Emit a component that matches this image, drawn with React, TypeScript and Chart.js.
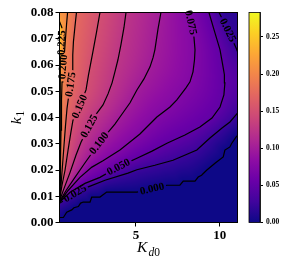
import React, { useEffect, useRef } from "react";
import { Chart, registerables } from "chart.js";
Chart.register(...registerables);

// ---- axis ranges and ticks ----
const X_MIN = 0.45;
const X_MAX = 11.05;
const Y_MIN = 0;
const Y_MAX = 0.08;
const Z_MAX = 0.283;
const xTicks = [5, 10];
const yTicks = [0, 0.01, 0.02, 0.03, 0.04, 0.05, 0.06, 0.07, 0.08];
const cbTicks = [0, 0.05, 0.1, 0.15, 0.2, 0.25];
const LEVELS = [0, 0.025, 0.05, 0.075, 0.1, 0.125, 0.15, 0.175, 0.2, 0.225];

// ---- contour lines (Kd0, k1), label = index of label anchor ----
const kd_000 = [0.45, 0.68, 0.88, 1.18, 1.31, 1.57, 1.71, 1.87, 2.27, 2.37, 2.86, 3.26, 5.06, 5.96, 6.85, 7.62, 7.82, 8.52, 8.71, 8.91, 9.21, 9.71, 10.2, 10.3, 10.6, 10.7, 10.98, 11.05];
const k1_000 = [0.0019, 0.0019, 0.0039, 0.0048, 0.0056, 0.0061, 0.0074, 0.0078, 0.0078, 0.0097, 0.0097, 0.0116, 0.0116, 0.0129, 0.0142, 0.0142, 0.0158, 0.0158, 0.0173, 0.018, 0.0199, 0.0226, 0.025, 0.0276, 0.0288, 0.0301, 0.0327, 0.0331];
const lab_000 = 13;

const kd_025a = [0.45, 0.72, 1.37, 2.09, 3.16, 4.53, 5.06, 6.13, 7.21, 8.63, 9.41, 10.13, 10.6, 11.05];
const k1_025a = [0.0073, 0.0084, 0.0111, 0.0134, 0.0161, 0.0188, 0.0201, 0.0218, 0.0237, 0.0276, 0.0322, 0.036, 0.0383, 0.0417];
const lab_025a = 2;

const kd_025b = [9.95, 10.48, 10.96, 11.05];
const k1_025b = [0.08, 0.0733, 0.0666, 0.0651];
const lab_025b = 1;

const kd_050 = [0.45, 1.08, 1.97, 2.86, 3.96, 5.06, 5.96, 6.85, 7.92, 8.81, 9.53, 10.01, 10.24, 10.3, 10.27, 10.19, 10.01, 9.65, 9.35];
const k1_050 = [0.0077, 0.0115, 0.0149, 0.0172, 0.0212, 0.0245, 0.0272, 0.0302, 0.0333, 0.0364, 0.0398, 0.044, 0.0486, 0.0532, 0.0563, 0.0593, 0.0658, 0.0735, 0.08];
const lab_050 = 4;

const kd_075 = [0.45, 0.96, 1.67, 2.38, 3.04, 4.05, 5.24, 6.25, 7.03, 7.44, 7.98, 8.22, 8.4, 8.49, 8.52, 8.46, 8.28, 8.13];
const k1_075 = [0.0078, 0.0122, 0.0172, 0.0211, 0.0235, 0.0276, 0.0337, 0.0402, 0.044, 0.0467, 0.0513, 0.0536, 0.0574, 0.062, 0.0658, 0.0704, 0.0762, 0.08];
const lab_075 = 16;

const kd_100 = [0.45, 0.84, 1.37, 1.91, 2.8, 3.75, 4.05, 4.65, 5.06, 5.48, 5.84, 6.02, 6.13, 6.31, 6.49];
const k1_100 = [0.008, 0.0122, 0.0172, 0.0222, 0.0302, 0.0375, 0.0402, 0.0456, 0.0505, 0.0547, 0.0593, 0.0628, 0.0658, 0.0735, 0.08];
const lab_100 = 4;

const kd_125 = [0.45, 0.72, 1.08, 1.43, 1.73, 2.21, 2.68, 3.04, 3.34, 3.58, 3.75, 3.93, 4.11, 4.29, 4.41];
const k1_125 = [0.0082, 0.013, 0.0191, 0.0256, 0.0306, 0.0367, 0.0417, 0.0448, 0.049, 0.0532, 0.0574, 0.062, 0.0678, 0.0743, 0.08];
const lab_125 = 5;

const kd_150 = [0.45, 0.6, 0.78, 0.96, 1.13, 1.25, 1.64, 2.03, 2.18, 2.43, 2.65, 2.86];
const k1_150 = [0.0084, 0.0142, 0.0199, 0.0276, 0.0344, 0.0389, 0.0442, 0.0505, 0.0563, 0.0647, 0.0723, 0.08];
const lab_150 = 6;

const kd_175 = [0.45, 0.54, 0.63, 0.72, 0.81, 0.9, 0.99, 1.1, 1.21, 1.24, 1.28, 1.37, 1.46];
const k1_175 = [0.0086, 0.0142, 0.0218, 0.0295, 0.0371, 0.0436, 0.0478, 0.0526, 0.0574, 0.0639, 0.0689, 0.0746, 0.08];
const lab_175 = 7;

const kd_200 = [0.45, 0.48, 0.51, 0.54, 0.57, 0.6, 0.65, 0.75, 0.81, 0.87, 0.93];
const k1_200 = [0.0088, 0.0142, 0.0237, 0.0352, 0.0467, 0.0536, 0.0593, 0.0651, 0.0704, 0.0754, 0.08];
const lab_200 = 6;

const kd_225 = [0.45, 0.47, 0.48, 0.49, 0.49, 0.51, 0.56, 0.59, 0.45];
const k1_225 = [0.009, 0.0142, 0.0237, 0.039, 0.0544, 0.0628, 0.0685, 0.0743, 0.0766];
const lab_225 = 6;

const contours = [
  { level: 0, kd: kd_000, k1: k1_000, label: lab_000 },
  { level: 0.025, kd: kd_025a, k1: k1_025a, label: lab_025a },
  { level: 0.025, kd: kd_025b, k1: k1_025b, label: lab_025b },
  { level: 0.05, kd: kd_050, k1: k1_050, label: lab_050 },
  { level: 0.075, kd: kd_075, k1: k1_075, label: lab_075 },
  { level: 0.1, kd: kd_100, k1: k1_100, label: lab_100 },
  { level: 0.125, kd: kd_125, k1: k1_125, label: lab_125 },
  { level: 0.15, kd: kd_150, k1: k1_150, label: lab_150 },
  { level: 0.175, kd: kd_175, k1: k1_175, label: lab_175 },
  { level: 0.2, kd: kd_200, k1: k1_200, label: lab_200 },
  { level: 0.225, kd: kd_225, k1: k1_225, label: lab_225 },
];

// ---- styles ----
const SERIF = '"Liberation Serif", "Times New Roman", serif';
const PLASMA = ["#0d0887", "#41049d", "#6a00a8", "#8f0da4", "#b12a90", "#cc4778", "#e16462", "#f2844b", "#fca636", "#fcce25", "#f0f921"];
const LABEL_FONT = `bold 11px ${SERIF}`;

function hexRgb(h: string) {
  return [parseInt(h.slice(1, 3), 16), parseInt(h.slice(3, 5), 16), parseInt(h.slice(5, 7), 16)];
}
const PL = PLASMA.map(hexRgb);
function plasma(t: number) {
  t = Math.max(0, Math.min(1, t));
  const f = t * (PL.length - 1);
  const i = Math.min(PL.length - 2, Math.floor(f));
  const u = f - i;
  const a = PL[i], b = PL[i + 1];
  return [a[0] + (b[0] - a[0]) * u, a[1] + (b[1] - a[1]) * u, a[2] + (b[2] - a[2]) * u];
}

function pixelContours(chart: any) {
  const sx = chart.scales.x, sy = chart.scales.y;
  return contours.map((c) => ({
    li: LEVELS.indexOf(c.level),
    level: c.level,
    label: c.label,
    p: c.kd.map((v, i) => [sx.getPixelForValue(v), sy.getPixelForValue(c.k1[i])]),
  }));
}

function labelGeom(chart: any) {
  const ctx = chart.ctx;
  ctx.save();
  ctx.font = LABEL_FONT;
  const res = pixelContours(chart).map((c) => {
    const p = c.p;
    const k = c.label;
    const prev = p[Math.max(0, k - 1)], next = p[Math.min(p.length - 1, k + 1)];
    let ang = Math.atan2(next[1] - prev[1], next[0] - prev[0]);
    if (ang > Math.PI / 2) ang -= Math.PI;
    if (ang < -Math.PI / 2) ang += Math.PI;
    const text = c.level.toFixed(3);
    const w = ctx.measureText(text).width;
    return { x: p[k][0], y: p[k][1], ang, text, w };
  });
  ctx.restore();
  return res;
}

let fieldCache: { key: string; canvas: HTMLCanvasElement; x0: number; y0: number } | null = null;

function buildField(chart: any) {
  const a = chart.chartArea;
  const key = [a.left, a.top, a.right, a.bottom].join(",");
  if (fieldCache && fieldCache.key === key) return fieldCache;
  const pcs = pixelContours(chart);
  const x0 = Math.floor(a.left), y0 = Math.floor(a.top);
  const W = Math.ceil(a.right) - x0, H = Math.ceil(a.bottom) - y0;
  const off = document.createElement("canvas");
  off.width = W;
  off.height = H;
  const octx = off.getContext("2d")!;
  const img = octx.createImageData(W, H);
  const nL = LEVELS.length;
  const top = LEVELS[nL - 1];
  const dL = new Float64Array(nL), qx = new Float64Array(nL), qy = new Float64Array(nL);
  for (let j = 0; j < H; j++) {
    for (let i = 0; i < W; i++) {
      const px = x0 + i + 0.5, py = y0 + j + 0.5;
      dL.fill(Infinity);
      for (const c of pcs) {
        const p = c.p;
        for (let s = 0; s < p.length - 1; s++) {
          const ax = p[s][0], ay = p[s][1];
          const dx = p[s + 1][0] - ax, dy = p[s + 1][1] - ay;
          const l2 = dx * dx + dy * dy;
          let t = l2 > 0 ? ((px - ax) * dx + (py - ay) * dy) / l2 : 0;
          t = t < 0 ? 0 : t > 1 ? 1 : t;
          const cx = ax + t * dx, cy = ay + t * dy;
          const d2 = (px - cx) * (px - cx) + (py - cy) * (py - cy);
          if (d2 < dL[c.li]) {
            dL[c.li] = d2;
            qx[c.li] = cx;
            qy[c.li] = cy;
          }
        }
      }
      let i1 = 0;
      for (let l = 1; l < nL; l++) if (dL[l] < dL[i1]) i1 = l;
      const d1 = Math.sqrt(dL[i1]);
      const v1x = qx[i1] - px, v1y = qy[i1] - py;
      let best = -1, bestD = Infinity, near = -1, nearD = Infinity;
      for (const jj of [i1 - 1, i1 + 1]) {
        if (jj < 0 || jj >= nL || !isFinite(dL[jj])) continue;
        const dj = Math.sqrt(dL[jj]);
        const vjx = qx[jj] - px, vjy = qy[jj] - py;
        const cos = (v1x * vjx + v1y * vjy) / (d1 * dj + 1e-9);
        if (dj < nearD) { nearD = dj; near = jj; }
        if (cos < 0.3 && dj < bestD) { bestD = dj; best = jj; }
      }
      let z = LEVELS[i1];
      if (best >= 0) z = LEVELS[i1] + (LEVELS[best] - LEVELS[i1]) * d1 / (d1 + bestD);
      else if (i1 === nL - 1) z = top + (Z_MAX - top) * d1 / (d1 + 2.5);
      else if (near >= 0) z = LEVELS[i1] - (LEVELS[near] - LEVELS[i1]) * d1 / (d1 + nearD);
      z = Math.max(0, Math.min(Z_MAX, z));
      const col = plasma(z / Z_MAX);
      const o = (j * W + i) * 4;
      img.data[o] = col[0];
      img.data[o + 1] = col[1];
      img.data[o + 2] = col[2];
      img.data[o + 3] = 255;
    }
  }
  octx.putImageData(img, 0, 0);
  fieldCache = { key, canvas: off, x0, y0 };
  return fieldCache;
}

const contourPlugin = {
  id: "contourField",
  beforeDraw(chart: any) {
    const f = buildField(chart);
    const a = chart.chartArea;
    const ctx = chart.ctx;
    ctx.save();
    ctx.beginPath();
    ctx.rect(a.left, a.top, a.right - a.left, a.bottom - a.top);
    ctx.clip();
    ctx.drawImage(f.canvas, f.x0, f.y0);
    ctx.restore();
  },
  beforeDatasetDraw(chart: any, args: any) {
    const ctx = chart.ctx;
    const g = labelGeom(chart)[args.index];
    ctx.save();
    ctx.beginPath();
    ctx.rect(0, 0, chart.width, chart.height);
    const hw = g.w / 2 + 2, hh = 6;
    const ux = Math.cos(g.ang), uy = Math.sin(g.ang);
    const vx = -uy, vy = ux;
    ctx.moveTo(g.x - ux * hw - vx * hh, g.y - uy * hw - vy * hh);
    ctx.lineTo(g.x + ux * hw - vx * hh, g.y + uy * hw - vy * hh);
    ctx.lineTo(g.x + ux * hw + vx * hh, g.y + uy * hw + vy * hh);
    ctx.lineTo(g.x - ux * hw + vx * hh, g.y - uy * hw + vy * hh);
    ctx.closePath();
    ctx.clip("evenodd");
  },
  afterDatasetDraw(chart: any) {
    chart.ctx.restore();
  },
  afterDatasetsDraw(chart: any) {
    const ctx = chart.ctx;
    const a = chart.chartArea;
    ctx.save();
    ctx.strokeStyle = "#000";
    ctx.lineWidth = 1;
    ctx.strokeRect(a.left, a.top, a.right - a.left, a.bottom - a.top);
    ctx.fillStyle = "#000";
    ctx.font = LABEL_FONT;
    ctx.textAlign = "center";
    ctx.textBaseline = "middle";
    for (const g of labelGeom(chart)) {
      ctx.save();
      ctx.translate(g.x, g.y);
      ctx.rotate(g.ang);
      ctx.fillText(g.text, 0, 0.5);
      ctx.restore();
    }
    ctx.restore();
  },
  afterDraw(chart: any) {
    const ctx = chart.ctx;
    const a = chart.chartArea;
    ctx.save();
    ctx.fillStyle = "#000";
    ctx.textBaseline = "alphabetic";
    ctx.textAlign = "left";
    // x title: K_{d0}
    const bigI = `italic 15.5px ${SERIF}`, smI = `italic 11.5px ${SERIF}`, smR = `11.5px ${SERIF}`;
    ctx.font = bigI;
    const wK = ctx.measureText("K").width;
    ctx.font = smI;
    const wd = ctx.measureText("d").width;
    ctx.font = smR;
    const w0 = ctx.measureText("0").width;
    let x = (a.left + a.right) / 2 - (wK + wd + w0 + 1) / 2;
    ctx.font = bigI;
    ctx.fillText("K", x, 252);
    x += wK + 1;
    ctx.font = smI;
    ctx.fillText("d", x, 255.5);
    x += wd;
    ctx.font = smR;
    ctx.fillText("0", x, 255.5);
    // y title: k_1
    ctx.translate(20.7, (a.top + a.bottom) / 2);
    ctx.rotate(-Math.PI / 2);
    ctx.font = bigI;
    const wk = ctx.measureText("k").width;
    ctx.font = smR;
    const w1 = ctx.measureText("1").width;
    let yx = -(wk + w1 + 1) / 2;
    ctx.font = bigI;
    ctx.fillText("k", yx, 0);
    yx += wk + 1;
    ctx.font = smR;
    ctx.fillText("1", yx, 3.5);
    ctx.restore();
  },
};

const colorbarPlugin = {
  id: "colorbarFill",
  beforeDraw(chart: any) {
    const a = chart.chartArea;
    const sy = chart.scales.y;
    const ctx = chart.ctx;
    const g = ctx.createLinearGradient(0, sy.getPixelForValue(0), 0, sy.getPixelForValue(Z_MAX));
    PLASMA.forEach((c, i) => g.addColorStop(i / (PLASMA.length - 1), c));
    ctx.save();
    ctx.fillStyle = g;
    ctx.fillRect(a.left, a.top, a.right - a.left, a.bottom - a.top);
    ctx.restore();
  },
  afterDraw(chart: any) {
    const a = chart.chartArea;
    const ctx = chart.ctx;
    ctx.save();
    ctx.strokeStyle = "#000";
    ctx.lineWidth = 0.8;
    ctx.strokeRect(a.left, a.top, a.right - a.left, a.bottom - a.top);
    ctx.restore();
  },
};

export default function App() {
  const mainRef = useRef<HTMLCanvasElement>(null);
  const cbRef = useRef<HTMLCanvasElement>(null);

  useEffect(() => {
    const tickFont = { family: SERIF, size: 13, weight: "bold" as const };
    const datasets = contours.map((c) => ({
      data: c.kd.map((v, i) => ({ x: v, y: c.k1[i] })),
      showLine: true,
      pointRadius: 0,
      borderColor: "#000",
      borderWidth: 1.2,
      tension: 0,
      fill: false,
    }));
    const main = new Chart(mainRef.current!, {
      type: "scatter",
      data: { datasets },
      options: {
        responsive: false,
        animation: false,
        devicePixelRatio: 1,
        events: [],
        layout: { padding: { left: 0, right: 53.5, top: 12.5, bottom: 0 } },
        plugins: { legend: { display: false }, tooltip: { enabled: false } },
        scales: {
          x: {
            type: "linear",
            min: X_MIN,
            max: X_MAX,
            afterBuildTicks: (s: any) => { s.ticks = xTicks.map((v) => ({ value: v })); },
            afterFit: (s: any) => { s.height = 43.5; },
            ticks: { font: tickFont, color: "#000", padding: 1, maxRotation: 0, autoSkip: false, callback: (v: any) => String(v) },
            grid: { drawOnChartArea: false, drawTicks: true, tickLength: 4, color: "#000" },
            border: { display: true, color: "#000", width: 1 },
          },
          y: {
            type: "linear",
            min: Y_MIN,
            max: Y_MAX,
            afterBuildTicks: (s: any) => { s.ticks = yTicks.map((v) => ({ value: v })); },
            afterFit: (s: any) => { s.width = 59.5; },
            ticks: { font: tickFont, color: "#000", padding: 2, autoSkip: false, callback: (v: any) => Number(v).toFixed(2) },
            grid: { drawOnChartArea: false, drawTicks: true, tickLength: 4, color: "#000" },
            border: { display: true, color: "#000", width: 1 },
          },
        },
      },
      plugins: [contourPlugin],
    } as any);

    const cb = new Chart(cbRef.current!, {
      type: "scatter",
      data: { datasets: [] },
      options: {
        responsive: false,
        animation: false,
        devicePixelRatio: 1,
        events: [],
        layout: { padding: { left: 9, right: 0, top: 12.5, bottom: 43.5 } },
        plugins: { legend: { display: false }, tooltip: { enabled: false } },
        scales: {
          x: { display: false, min: 0, max: 1 },
          y: {
            type: "linear",
            position: "right",
            min: 0,
            max: Z_MAX,
            afterBuildTicks: (s: any) => { s.ticks = cbTicks.map((v) => ({ value: v })); },
            afterFit: (s: any) => { s.width = 31; },
            ticks: { font: { family: SERIF, size: 7.5, weight: "bold" }, color: "#000", padding: 3, autoSkip: false, callback: (v: any) => Number(v).toFixed(2) },
            grid: { drawOnChartArea: false, drawTicks: true, tickLength: 3, color: "#000" },
            border: { display: true, color: "#000", width: 0.8 },
          },
        },
      },
      plugins: [colorbarPlugin],
    } as any);

    return () => {
      main.destroy();
      cb.destroy();
    };
  }, []);

  return (
    <div style={{ position: "absolute", left: 0, top: 0, width: 291, height: 266, background: "#fff" }}>
      <canvas ref={mainRef} width={291} height={266} style={{ position: "absolute", left: 0, top: 0, width: 291, height: 266 }} />
      <canvas ref={cbRef} width={51} height={266} style={{ position: "absolute", left: 240, top: 0, width: 51, height: 266 }} />
    </div>
  );
}
